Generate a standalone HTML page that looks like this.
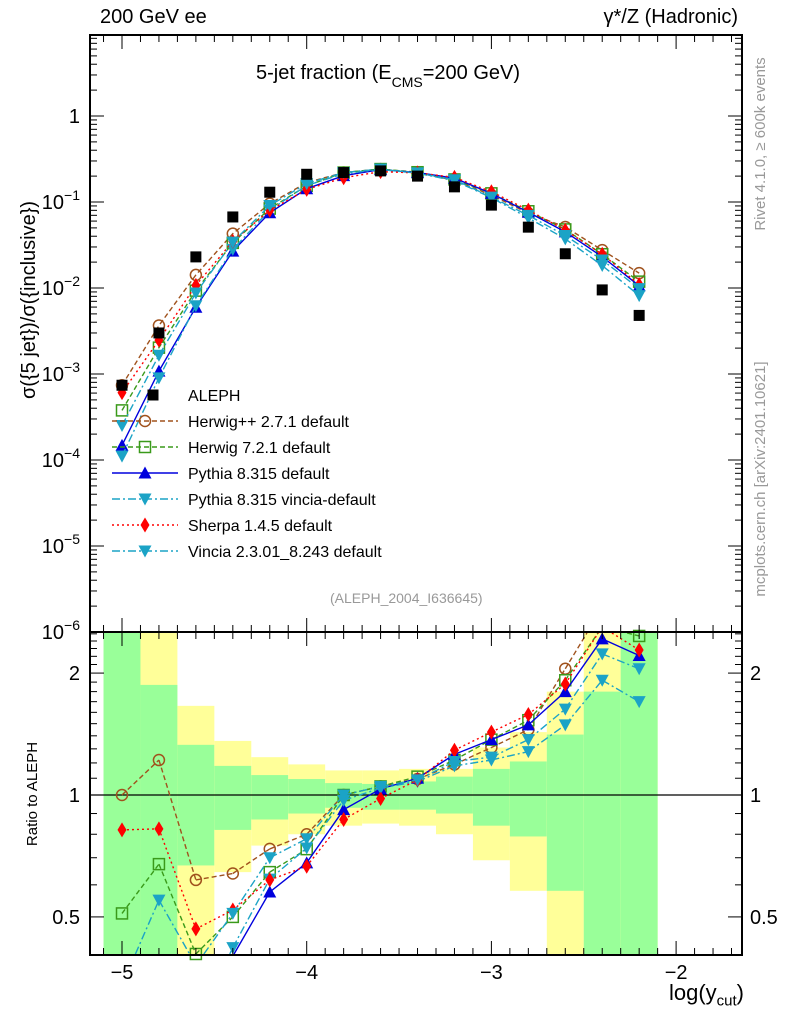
<!DOCTYPE html>
<html><head><meta charset="utf-8"><style>
html,body{margin:0;padding:0;background:#fff;width:786px;height:1024px;overflow:hidden;position:relative;}
svg{display:block;font-family:"Liberation Sans",sans-serif;}
</style></head><body>
<svg id="c" width="786" height="1024" viewBox="0 0 786 1024" style="position:absolute;left:0;top:0;">
<text transform="translate(35,300) rotate(-90)" font-size="20" text-anchor="middle">σ({5 jet})/σ({inclusive})</text>
<text transform="translate(37,794) rotate(-90)" font-size="15" text-anchor="middle">Ratio to ALEPH</text>
<text transform="translate(765,144) rotate(-90)" font-size="15" fill="#999" text-anchor="middle">Rivet 4.1.0, ≥ 600k events</text>
<text transform="translate(765,479) rotate(-90)" font-size="15" fill="#999" text-anchor="middle">mcplots.cern.ch [arXiv:2401.10621]</text>
</svg>
<script>
const xs=[-5,-4.8,-4.6,-4.4,-4.2,-4.0,-3.8,-3.6,-3.4,-3.2,-3.0,-2.8,-2.6,-2.4,-2.2];
const aleph=[7.4e-4,3.0e-3,0.023,0.067,0.13,0.21,0.22,0.23,0.20,0.15,0.092,0.051,0.025,0.0095,0.0048];
const rHerwigpp=[1.0,1.22,0.617,0.64,0.736,0.80,1.0,1.05,1.095,1.19,1.31,1.45,2.05,2.9,3.1];
const rHerwig7=[0.51,0.675,0.405,0.50,0.645,0.735,1.0,1.05,1.11,1.22,1.37,1.53,1.92,2.6,2.47];
const rPythia=[0.2,0.36,0.26,0.40,0.576,0.68,0.92,1.035,1.10,1.26,1.37,1.49,1.80,2.43,2.21];
const rPyVincia=[0.15,0.30,0.27,0.42,0.62,0.74,0.97,1.04,1.08,1.18,1.22,1.28,1.49,1.92,1.70];
const rSherpa=[0.82,0.825,0.467,0.52,0.617,0.667,0.87,0.98,1.09,1.29,1.43,1.58,1.88,2.6,2.28];
const rVincia=[0.34,0.55,0.38,0.51,0.70,0.78,1.0,1.05,1.09,1.21,1.24,1.37,1.63,2.23,2.05];
const greenUp=[3,1.87,1.33,1.18,1.12,1.095,1.07,1.065,1.08,1.11,1.16,1.21,1.41,1.8,3];
const greenLo=[0.3,0.3,0.67,0.82,0.87,0.9,0.93,0.92,0.92,0.90,0.84,0.79,0.58,0.3,0.3];
const yellowUp=[3,3,1.66,1.36,1.24,1.19,1.15,1.15,1.16,1.16,1.31,1.43,1.8,3,3];
const yellowLo=[0.3,0.3,0.3,0.645,0.75,0.80,0.84,0.85,0.84,0.80,0.69,0.58,0.3,0.3,0.3];
const xTicks=[-5,-4,-3,-2];
const yTopTicks=[0,-1,-2,-3,-4,-5,-6];
const rTicks=[2,1,0.5];

const NS="http://www.w3.org/2000/svg";
const svg=document.getElementById('c');
function el(t,a,p){const e=document.createElementNS(NS,t);for(const k in a)e.setAttribute(k,a[k]);(p||svg).appendChild(e);return e;}
const L=90,R=742,T=35,M=632,B=955;
const X=v=>122+(v+5)*184.7;
const Yt=v=>116-Math.log10(v)*86;
const Yr=v=>795-Math.log10(v)*405;
const cy=y=>Math.max(M,Math.min(B,y));

// clip a polyline to y in [M,B]
function clipLines(pts,ymin,ymax){
  const segs=[];
  for(let i=0;i<pts.length-1;i++){
    let [x1,y1]=pts[i],[x2,y2]=pts[i+1];
    if((y1<ymin&&y2<ymin)||(y1>ymax&&y2>ymax))continue;
    const f=(yy)=>x1+(x2-x1)*(yy-y1)/(y2-y1);
    let a=[x1,y1],b=[x2,y2];
    if(y1<ymin)a=[f(ymin),ymin]; if(y1>ymax)a=[f(ymax),ymax];
    if(y2<ymin)b=[f(ymin),ymin]; if(y2>ymax)b=[f(ymax),ymax];
    segs.push([a,b]);
  }
  return segs;
}

const gb=el('g',{});


xs.forEach((x,i)=>{
  const x0=X(x-0.1),w=X(x+0.1)-x0;
  const yu=cy(Yr(yellowUp[i])),yl=cy(Yr(yellowLo[i]));
  const y=el('rect',{x:x0,y:yu,width:w,height:yl-yu,fill:'#ffff99'},gb);
  
  
  const gu=cy(Yr(greenUp[i])),gl=cy(Yr(greenLo[i]));
  const g=el('rect',{x:x0,y:gu,width:w,height:gl-gu,fill:'#99ff99'},gb);
  
  
});
el('line',{x1:L,x2:R,y1:Yr(1),y2:Yr(1),stroke:'#000','stroke-width':1.3});

function marker(g,type,cx,cy,col){
  const s=5.5;let m;
  if(type==='sq') m=el('rect',{x:cx-s,y:cy-s,width:2*s,height:2*s,fill:col},g);
  else if(type==='osq') m=el('rect',{x:cx-s,y:cy-s,width:2*s,height:2*s,fill:'none',stroke:col,'stroke-width':1.5},g);
  else if(type==='oc') m=el('circle',{cx:cx,cy:cy,r:s,fill:'none',stroke:col,'stroke-width':1.5},g);
  else if(type==='tu') m=el('polygon',{points:`${cx},${cy-s-1} ${cx-s-1},${cy+s} ${cx+s+1},${cy+s}`,fill:col},g);
  else if(type==='td') m=el('polygon',{points:`${cx},${cy+s+1} ${cx-s-1},${cy-s} ${cx+s+1},${cy-s}`,fill:col},g);
  else m=el('polygon',{points:`${cx},${cy-s-2} ${cx-s+1},${cy} ${cx},${cy+s+2} ${cx+s-1},${cy}`,fill:col},g);
  return m;
}
const series=[
 {name:'herwigpp',r:rHerwigpp,col:'#a0521d',dash:'5,3',m:'oc',label:'Herwig++ 2.7.1 default'},
 {name:'herwig7',r:rHerwig7,col:'#3a9a1a',dash:'5,3',m:'osq',label:'Herwig 7.2.1 default'},
 {name:'pythia',r:rPythia,col:'#0000dd',dash:'',m:'tu',label:'Pythia 8.315 default'},
 {name:'pythia-vincia',r:rPyVincia,col:'#1ba3c6',dash:'8,3,2,3',m:'td',label:'Pythia 8.315 vincia-default'},
 {name:'sherpa',r:rSherpa,col:'#ff0000',dash:'2,3',m:'dm',label:'Sherpa 1.4.5 default'},
 {name:'vincia',r:rVincia,col:'#1ba3c6',dash:'8,3,2,3',m:'td',label:'Vincia 2.3.01_8.243 default'}
];
const gt=el('g',{});
series.forEach(s=>{
  const g=el('g',{},gt);
  
  
  const pts=xs.map((x,i)=>X(x)+','+Yt(aleph[i]*s.r[i])).join(' ');
  el('polyline',{points:pts,fill:'none',stroke:s.col,'stroke-width':1.4,'stroke-dasharray':s.dash},g);
  xs.forEach((x,i)=>marker(g,s.m,X(x),Yt(aleph[i]*s.r[i]),s.col));
});
const ga=el('g',{},gt);


xs.forEach((x,i)=>marker(ga,'sq',X(x),Yt(aleph[i]),'#000'));
const gr=el('g',{});
series.forEach(s=>{
  const g=el('g',{},gr);
  
  
  const pts=xs.map((x,i)=>[X(x),Yr(s.r[i])]);
  clipLines(pts,M+1,B-1).forEach(([a,b])=>el('line',{x1:a[0],y1:a[1],x2:b[0],y2:b[1],stroke:s.col,'stroke-width':1.4,'stroke-dasharray':s.dash},g));
  pts.forEach(([px,py])=>{if(py>=M&&py<=B)marker(g,s.m,px,py,s.col);});
});

el('rect',{x:L,y:T,width:R-L,height:M-T,fill:'none',stroke:'#000','stroke-width':2});
el('rect',{x:L,y:M,width:R-L,height:B-M,fill:'none',stroke:'#000','stroke-width':2});
for(let v=-5.2;v<=-1.6;v+=0.1){
  const vv=Math.round(v*10)/10,x=X(vv);if(x<L||x>R)continue;
  const maj=Math.abs(vv-Math.round(vv))<1e-6;const h=maj?14:7;
  [[T,1],[M,-1],[M,1],[B,-1]].forEach(([y,d])=>el('line',{x1:x,x2:x,y1:y,y2:y+d*h,stroke:'#000','stroke-width':1}));
}
xTicks.forEach(v=>{const t=el('text',{x:X(v),y:979,'font-size':20,'text-anchor':'middle'});t.textContent='\u2212'+Math.abs(v);
});
for(let d=1;d>=-6;d--){for(let k=1;k<10;k++){const v=k*Math.pow(10,d);const y=Yt(v);if(y<T||y>M)continue;const h=k===1?14:7;
el('line',{x1:L,x2:L+h,y1:y,y2:y,stroke:'#000'});el('line',{x1:R,x2:R-h,y1:y,y2:y,stroke:'#000'});}}
yTopTicks.forEach(d=>{const t=el('text',{x:80,y:Yt(Math.pow(10,d))+7,'font-size':20,'text-anchor':'end'});

if(d===0)t.textContent='1';else{t.textContent='10';const s=el('tspan',{dy:-9,'font-size':14},t);s.textContent='\u2212'+Math.abs(d);}});
for(let v=0.4;v<=2.55;v+=0.1){const vv=Math.round(v*10)/10;const y=Yr(vv);if(y<M||y>B)continue;const maj=(vv===0.5||vv===1||vv===2);const h=maj?14:7;
el('line',{x1:L,x2:L+h,y1:y,y2:y,stroke:'#000'});el('line',{x1:R,x2:R-h,y1:y,y2:y,stroke:'#000'});}
rTicks.forEach(v=>{[[80,'end'],[750,'start']].forEach(([x,a])=>{const t=el('text',{x:x,y:Yr(v)+7,'font-size':20,'text-anchor':a});t.textContent=String(v);
});});

const lg=el('g',{});


marker(lg,'sq',153,395,'#000');
let t0=el('text',{x:188,y:401,'font-size':16},lg);t0.textContent='ALEPH';
series.forEach((s,i)=>{const y=421+26*i;
 const e=el('g',{},lg);
 
 
 el('line',{x1:112,x2:178,y1:y,y2:y,stroke:s.col,'stroke-width':1.4,'stroke-dasharray':s.dash},e);
 marker(e,s.m,145,y,s.col);
 const t=el('text',{x:188,y:y+6,'font-size':16},e);t.textContent=s.label;});
</script>
<div style="position:absolute;left:0;top:0;width:786px;height:1024px;overflow:hidden;pointer-events:none;font-family:'Liberation Sans',sans-serif;">
<div style="position:absolute;left:100px;top:6px;font-size:20px;">200 GeV ee</div>
<div style="position:absolute;right:48px;top:6px;font-size:20px;">γ*/Z (Hadronic)</div>
<div style="position:absolute;left:256px;top:62px;font-size:20px;">5-jet fraction (E<sub style="font-size:14px;vertical-align:-8px;">CMS</sub>=200 GeV)</div>
<div style="position:absolute;left:330px;top:590px;font-size:14px;color:#999;">(ALEPH_2004_I636645)</div>
<div style="position:absolute;right:42px;top:980px;font-size:22px;line-height:26px;">log(y<sub style="font-size:15px;line-height:0;">cut</sub>)</div>
</div>
</body></html>
